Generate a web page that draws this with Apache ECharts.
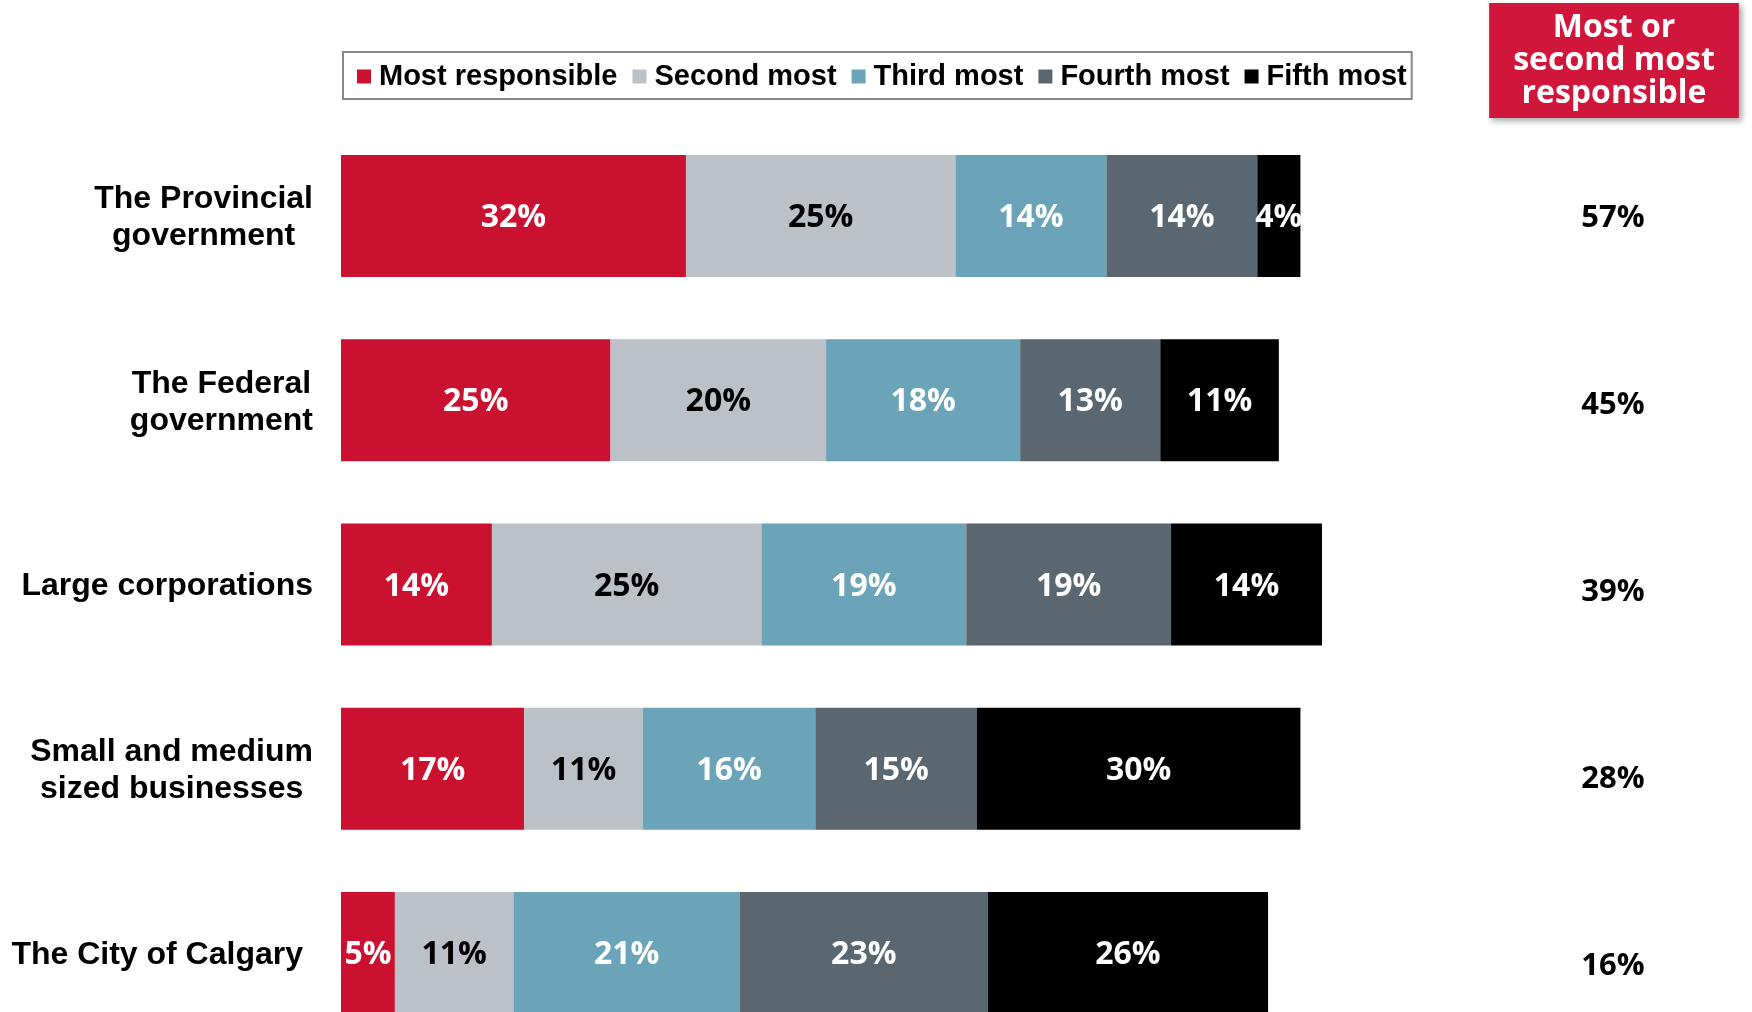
<!DOCTYPE html>
<html>
<head>
<meta charset="utf-8">
<script src="https://cdn.jsdelivr.net/npm/echarts@6/dist/echarts.min.js"></script>
<style>
    html, body { margin: 0; padding: 0; background: #fff; }
    #main { width: 1752px; height: 1012px; }
</style>
</head>
<body>
<div id="main"></div>
<script>
// categories (top to bottom)
var categories = ['The Provincial\ngovernment', 'The Federal\ngovernment', 'Large corporations', 'Small and medium\nsized businesses', 'The City of Calgary'];
var seriesNames = ['Most responsible', 'Second most', 'Third most', 'Fourth most', 'Fifth most'];
var mostResp = [32, 25, 14, 17, 5];
var secondMost = [25, 20, 25, 11, 11];
var thirdMost = [14, 18, 19, 16, 21];
var fourthMost = [14, 13, 19, 15, 23];
var fifthMost = [4, 11, 14, 30, 26];
// right column: most or second most responsible
var topTwo = ['57%', '45%', '39%', '28%', '16%'];

var colors = ['#CB1130', '#BBC1C6', '#6BA4B8', '#5B6770', '#000000'];
var labelColors = ['#fff', '#000', '#fff', '#fff', '#fff'];
var values = [mostResp, secondMost, thirdMost, fourthMost, fifthMost];

function chart(id) {
    var myChart = echarts.init(document.getElementById(id));

    var series = [];
    for (var i = 0; i < seriesNames.length; i++) {
        series.push({
            name: seriesNames[i],
            type: 'bar',
            stack: 'total',
            xAxisIndex: 0,
            yAxisIndex: 0,
            barWidth: 122,
            silent: true,
            itemStyle: { color: colors[i] },
            label: {
                show: true,
                position: 'inside',
                offset: [0, 2],
                formatter: '{c}%',
                color: labelColors[i],
                fontFamily: 'Open Sans',
                fontWeight: 'bold',
                fontSize: 32
            },
            data: values[i]
        });
    }

    var option = {
        animation: false,
        title: {
            text: 'Most or\nsecond most\nresponsible',
            left: 1590,
            top: 3,
            textAlign: 'center',
            padding: [8, 24],
            backgroundColor: '#D0163A',
            shadowBlur: 6,
            shadowColor: 'rgba(0,0,0,0.35)',
            shadowOffsetX: 3,
            shadowOffsetY: 3,
            textStyle: {
                color: '#fff',
                fontFamily: 'Open Sans',
                fontWeight: 'bold',
                fontSize: 32,
                lineHeight: 33
            }
        },
        legend: {
            data: seriesNames,
            left: 343,
            top: 52,
            padding: [10, 5, 8, 14],
            borderColor: '#888',
            borderWidth: 2,
            icon: 'rect',
            itemWidth: 14,
            itemHeight: 14,
            itemGap: 15,
            textStyle: {
                color: '#000',
                fontFamily: 'Liberation Sans',
                fontWeight: 'bold',
                fontSize: 29,
                padding: [0, 0, 0, 3]
            }
        },
        grid: [
            { left: 341, right: 333, top: 124, height: 921, outerBoundsMode: 'none', containLabel: false },
            { left: 341, right: 333, top: 125, height: 935, outerBoundsMode: 'none', containLabel: false }
        ],
        xAxis: [
            { type: 'value', gridIndex: 0, min: 0, max: 100, show: false },
            { type: 'value', gridIndex: 1, min: 0, max: 100, show: false }
        ],
        yAxis: [
            {
                type: 'category',
                gridIndex: 0,
                inverse: true,
                data: categories,
                axisLine: { show: false },
                axisTick: { show: false },
                axisLabel: {
                    margin: 28,
                    align: 'right',
                    formatter: function (v, idx) {
                        var style = idx === categories.length - 1 ? 'd' : 'c';
                        return v.split('\n').map(function (s) { return '{' + style + '|' + s + '}'; }).join('\n');
                    },
                    rich: {
                        c: {
                            align: 'center',
                            color: '#000',
                            fontFamily: 'Liberation Sans',
                            fontWeight: 'bold',
                            fontSize: 32,
                            lineHeight: 37,
                            padding: [4, 0, 0, 0]
                        },
                        d: {
                            align: 'center',
                            color: '#000',
                            fontFamily: 'Liberation Sans',
                            fontWeight: 'bold',
                            fontSize: 32,
                            lineHeight: 37,
                            padding: [4, 10, 0, 0]
                        }
                    }
                }
            },
            {
                type: 'category',
                gridIndex: 1,
                inverse: true,
                position: 'right',
                data: topTwo,
                axisLine: { show: false },
                axisTick: { show: false },
                axisLabel: {
                    margin: 194,
                    align: 'center',
                    color: '#000',
                    fontFamily: 'Open Sans',
                    fontWeight: 'bold',
                    fontSize: 31
                }
            }
        ],
        series: series
    };
    myChart.setOption(option);
}

chart('main');
</script>
</body>
</html>
